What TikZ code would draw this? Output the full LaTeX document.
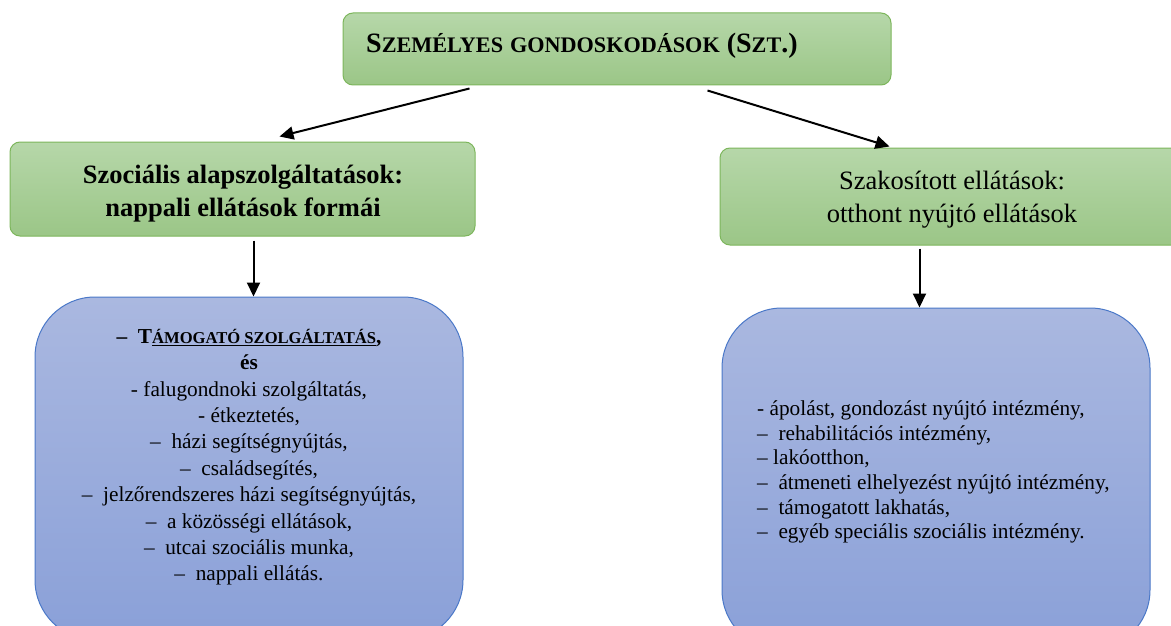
\documentclass[tikz,border=0pt]{standalone}
\usepackage{fontspec}
\setmainfont{Liberation Serif}
\usetikzlibrary{arrows.meta,calc}
\definecolor{gtop}{HTML}{B6D7A9}
\definecolor{gbot}{HTML}{9BC687}
\definecolor{gborder}{HTML}{7DB65C}
\definecolor{btop}{HTML}{AAB8E0}
\definecolor{bbot}{HTML}{8AA0D8}
\definecolor{bborder}{HTML}{4A78C8}
\newcommand\tsmall[1]{{\fontsize{22.2}{32}\selectfont #1}}
\newcommand\bsmall[1]{{\fontsize{16.6}{26.4}\selectfont #1}}
\begin{document}
\begin{tikzpicture}[x=1pt,y=-1pt,
  greenbox/.style={draw=gborder, line width=1pt, rounded corners=10pt, top color=gtop, bottom color=gbot, inner sep=0pt},
  bluebox/.style={draw=bborder, line width=1pt, rounded corners=60pt, top color=btop, bottom color=bbot, inner sep=0pt},
  conn/.style={line width=2pt, -{Triangle[length=14pt,width=13pt]}},
  txt/.style={inner sep=0pt, text=black}]
\useasboundingbox (0,0) rectangle (1171,626);
\clip (0,0) rectangle (1171,626);
\fill[white] (0,0) rectangle (1171,626);
% boxes
\node[greenbox, minimum width=548pt, minimum height=72pt] (top) at (617,49) {};
\node[greenbox, minimum width=465pt, minimum height=94pt] (lg) at (242.5,189) {};
\node[greenbox, minimum width=465pt, minimum height=97pt] (rg) at (952.5,196.5) {};
\node[bluebox, minimum width=428pt, minimum height=343pt] (lb) at (249,468.5) {};
\node[bluebox, minimum width=428pt, minimum height=342pt] (rb) at (936,479) {};
% texts
\node[txt, anchor=base west] (ttl) at (366,52.3)
  {\bfseries\fontsize{28}{32}\selectfont S\tsmall{ZEMÉLYES} \tsmall{GONDOSKODÁSOK} (S\tsmall{ZT}.)};
\node[txt, align=center, font=\bfseries\fontsize{26.5}{33.3}\selectfont] (lgt) at (243,193.5)
  {Szociális alapszolgáltatások:\\nappali ellátások formái};
\node[txt, align=center, font=\fontsize{26.5}{33}\selectfont] (rgt) at (952,200)
  {Szakosított ellátások:\\otthont nyújtó ellátások};
\node[txt, align=center, font=\fontsize{21.3}{26.4}\selectfont] (lbt) at (249,457.2)
  {{\bfseries –\ \ T\underline{\bsmall{ÁMOGATÓ SZOLGÁLTATÁS}},}\\
   {\bfseries és}\\
   - falugondnoki szolgáltatás,\\
   - étkeztetés,\\
   –\ \ házi segítségnyújtás,\\
   –\ \ családsegítés,\\
   –\ \ jelzőrendszeres házi segítségnyújtás,\\
   –\ \ a közösségi ellátások,\\
   –\ \ utcai szociális munka,\\
   –\ \ nappali ellátás.};
\node[txt, align=left, anchor=west, font=\fontsize{21.3}{24.6}\selectfont] (rbt) at (757,472)
  {- ápolást, gondozást nyújtó intézmény,\\
   –\ \ rehabilitációs intézmény,\\
   – lakóotthon,\\
   –\ \ átmeneti elhelyezést nyújtó intézmény,\\
   –\ \ támogatott lakhatás,\\
   –\ \ egyéb speciális szociális intézmény.};
% connectors
\draw[conn] ($(top.south west)+(127,3)$) -- ($(lg.north west)+(270,-5)$);
\draw[conn] ($(top.south west)+(365,5)$) -- ($(rg.north west)+(170,-1)$);
\draw[conn] ($(lg.south west)+(244,4)$) -- ($(lb.north west)+(219,0)$);
\draw[conn] ($(rg.south west)+(200,3)$) -- ($(rb.north west)+(198,0)$);
\end{tikzpicture}
\end{document}
